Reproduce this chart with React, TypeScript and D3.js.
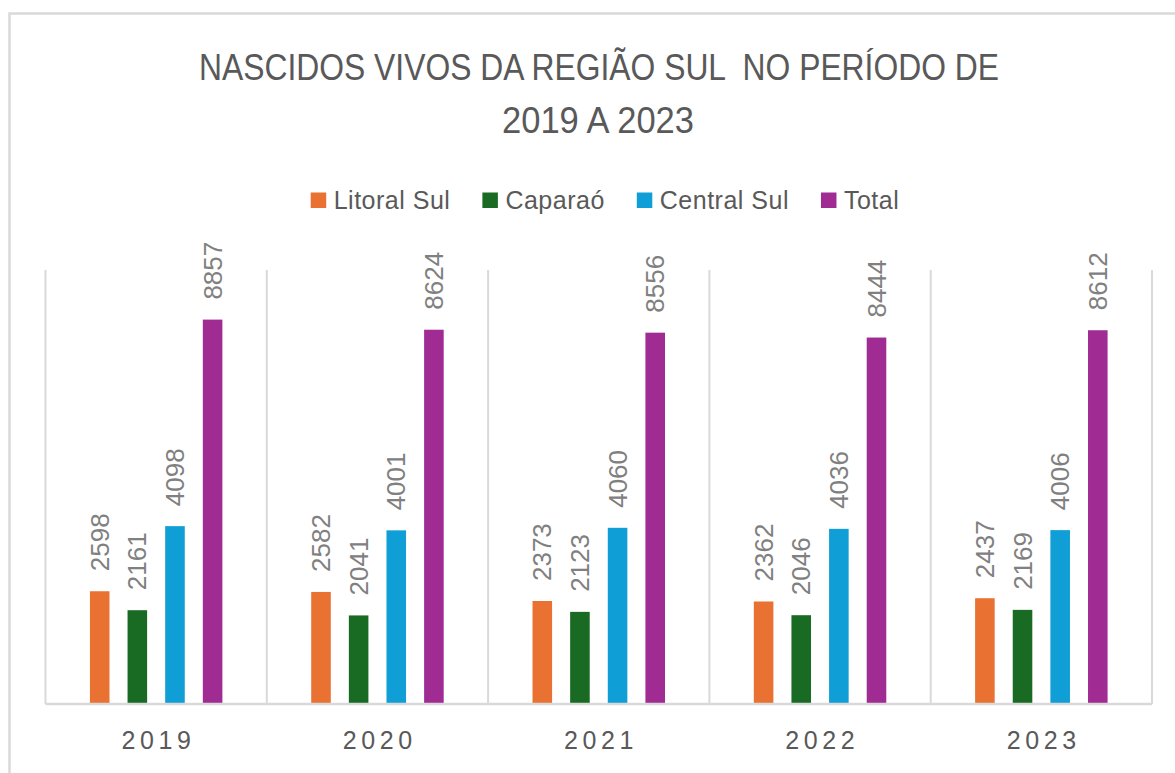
import React, { useEffect, useRef } from "react";
import * as d3 from "d3";

// data
const years = ["2019", "2020", "2021", "2022", "2023"];
const series = ["Litoral Sul", "Caparaó", "Central Sul", "Total"];
const litoralSul = [2598, 2582, 2373, 2362, 2437];
const caparao = [2161, 2041, 2123, 2046, 2169];
const centralSul = [4098, 4001, 4060, 4036, 4006];
const total = [8857, 8624, 8556, 8444, 8612];
const colors = ["#E97132", "#196B24", "#0F9ED5", "#A02B93"];
const titleLines = ["NASCIDOS VIVOS DA REGIÃO SUL  NO PERÍODO DE", "2019 A 2023"];

const W = 1175;
const H = 773;

export default function App() {
    const ref = useRef<SVGSVGElement | null>(null);

    useEffect(() => {
        const svg = d3.select(ref.current);
        svg.selectAll("*").remove();

        const values = [litoralSul, caparao, centralSul, total];
        const rows = years.map((yr, i) => ({
            year: yr,
            vals: series.map((s, j) => ({ name: s, value: values[j][i], color: colors[j] }))
        }));

        const left = 45.5, right = 1152, top = 270, bottom = 704;

        const x0 = d3.scaleBand().domain(years).range([left, right]).padding(0);
        const x1 = d3.scaleBand().domain(series).range([0, x0.bandwidth()])
            .paddingInner(0.48).paddingOuter(1.18);
        const y = d3.scaleLinear().domain([0, 10000]).range([bottom, top]);

        // chart border
        svg.append("rect")
            .attr("x", 9.5).attr("y", 13.5)
            .attr("width", W).attr("height", H)
            .attr("fill", "none")
            .attr("stroke", "#d9d9d9")
            .attr("stroke-width", 2.5);

        // title
        const title = svg.append("g").attr("fill", "#595959")
            .style("font-family", "'Liberation Sans Narrow', 'Arial Narrow', 'Liberation Sans', sans-serif")
            .style("font-size", "36px");
        title.append("text")
            .attr("x", 599).attr("y", 79.5)
            .attr("text-anchor", "middle")
            .attr("textLength", 800)
            .attr("lengthAdjust", "spacingAndGlyphs")
            .style("white-space", "pre")
            .text(titleLines[0]);
        title.append("text")
            .attr("x", 598).attr("y", 132.5)
            .attr("text-anchor", "middle")
            .attr("textLength", 192)
            .attr("lengthAdjust", "spacingAndGlyphs")
            .text(titleLines[1]);

        // legend, measured then centred
        const legend = svg.append("g")
            .style("font-family", "'Liberation Sans', Arial, sans-serif")
            .style("font-size", "25px");
        const items = legend.selectAll("g.item")
            .data(series)
            .enter().append("g").attr("class", "item");
        items.append("rect")
            .attr("y", 192.5).attr("width", 15.5).attr("height", 15.5)
            .attr("fill", (d, i) => colors[i]);
        items.append("text")
            .attr("x", 23).attr("y", 209)
            .attr("fill", "#595959")
            .style("letter-spacing", "0.5px")
            .text(d => d);
        const widths: number[] = [];
        items.select("text").each(function () {
            widths.push((this as SVGTextElement).getComputedTextLength());
        });
        const gap = 32;
        const itemW = widths.map(w => 23 + w);
        const totalW = d3.sum(itemW) + gap * (series.length - 1);
        let cx = 605 - totalW / 2;
        const offs: number[] = [];
        itemW.forEach(w => { offs.push(cx); cx += w + gap; });
        items.attr("transform", (d, i) => "translate(" + offs[i] + ",0)");

        // category dividers
        const edges = years.map(yr => x0(yr) as number).concat([right]);
        svg.append("g").selectAll("line")
            .data(edges)
            .enter().append("line")
            .attr("x1", d => d).attr("x2", d => d)
            .attr("y1", top).attr("y2", bottom)
            .attr("stroke", "#d9d9d9")
            .attr("stroke-width", 2);

        // bars
        const groups = svg.append("g").selectAll("g.year")
            .data(rows)
            .enter().append("g")
            .attr("class", "year")
            .attr("transform", d => "translate(" + x0(d.year) + ",0)");

        groups.selectAll("rect")
            .data(d => d.vals)
            .enter().append("rect")
            .attr("x", d => x1(d.name) as number)
            .attr("y", d => y(d.value))
            .attr("width", x1.bandwidth())
            .attr("height", d => bottom - y(d.value))
            .attr("fill", d => d.color);

        // data labels
        groups.selectAll("text")
            .data(d => d.vals)
            .enter().append("text")
            .attr("transform", d => "translate(" + ((x1(d.name) as number) + x1.bandwidth() / 2) + "," + (y(d.value) - 20) + ") rotate(-90)")
            .attr("dy", "0.35em")
            .attr("fill", "#808080")
            .style("font-family", "'Liberation Sans', Arial, sans-serif")
            .style("font-size", "26px")
            .text(d => d.value);

        // baseline
        svg.append("line")
            .attr("x1", left).attr("x2", right)
            .attr("y1", bottom).attr("y2", bottom)
            .attr("stroke", "#d9d9d9")
            .attr("stroke-width", 2.5);

        // year labels
        svg.append("g").selectAll("text")
            .data(years)
            .enter().append("text")
            .attr("x", d => (x0(d) as number) + x0.bandwidth() / 2)
            .attr("y", 749)
            .attr("dx", 2.3)
            .attr("text-anchor", "middle")
            .attr("fill", "#595959")
            .style("font-family", "'Liberation Sans', Arial, sans-serif")
            .style("font-size", "25px")
            .style("letter-spacing", "4.6px")
            .text(d => d);
    }, []);

    return (
        <svg ref={ref} width={W} height={H}
            style={{ position: "absolute", left: 0, top: 0, background: "#fff" }} />
    );
}
